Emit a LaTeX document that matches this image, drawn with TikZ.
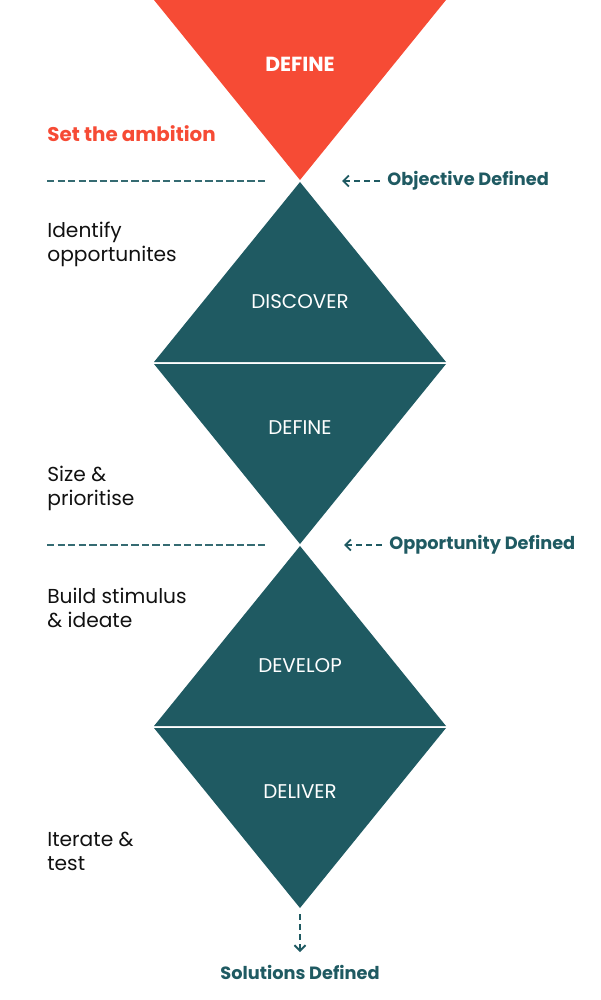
\documentclass[tikz,border=0pt]{standalone}
\usepackage{fontspec}
\setmainfont{Poppins}
\usetikzlibrary{positioning,arrows.meta}
\definecolor{ambition}{HTML}{F64B35}
\definecolor{phaseteal}{HTML}{1F5A62}
\definecolor{ink}{HTML}{111111}

\begin{document}
\begin{tikzpicture}[
    x=0.02cm, y=-0.02cm,
    phase/.style={fill=phaseteal, draw=none},
    stage/.style={font=\fontsize{11.3}{13}\selectfont, text=white},
    note/.style={anchor=west, align=left, font=\fontsize{11.5}{13.6}\selectfont, text=ink, inner sep=0pt},
    milestone/.style={font=\bfseries\fontsize{10.1}{12}\selectfont, text=phaseteal, inner sep=0pt},
    gate/.style={phaseteal!90!white, line width=1.1pt, dash pattern=on 4.2pt off 1.8pt},
    pointer/.style={-{Straight Barb[length=1.1mm, width=2.2mm]}, phaseteal, line width=1.1pt, dash pattern=on 3.4pt off 2.3pt}
]
\useasboundingbox (0,0) rectangle (600,1000);

% Ambition triangle (top)
\fill[ambition] (154,0) -- (446,0) -- (300,180) -- cycle;
\node[stage, font=\bfseries\fontsize{11.6}{13}\selectfont] (ambdef) at (300,64) {DEFINE};

% Problem diamond
\fill[phase] (300,182) -- (446,362) -- (154,362) -- cycle;
\fill[phase] (154,364) -- (446,364) -- (300,544) -- cycle;
\node[stage] (discover) at (300,302) {DISCOVER};
\node[stage] (define) at (300,428) {DEFINE};

% Solution diamond
\fill[phase] (300,546) -- (446,726) -- (154,726) -- cycle;
\fill[phase] (154,728) -- (446,728) -- (300,908) -- cycle;
\node[stage] (develop) at (300,666) {DEVELOP};
\node[stage] (deliver) at (300,792) {DELIVER};

% Apex points
\coordinate (apex1) at (342,181);
\coordinate (apex2) at (344,545);
\coordinate (apex3) at (300,914);
\coordinate (tip3) at (300,952);

% Left side notes
\node[note, text=ambition, font=\bfseries\fontsize{11.3}{13.6}\selectfont] (ambition) at (47,134) {Set the ambition};
\coordinate (gate1a) at (47,181);
\coordinate (gate1b) at (266,181);
\draw[gate] (gate1a) -- (gate1b);
\node[note] (identify) at (47,244) {Identify\\opportunites};
\node[note] (size) at (47,488) {Size \&\\prioritise};
\coordinate (gate2a) at (47,545);
\coordinate (gate2b) at (266,545);
\draw[gate] (gate2a) -- (gate2b);
\node[note] (build) at (47,608) {Build stimulus\\\& ideate};
\node[note] (iterate) at (47,851) {Iterate \&\\test};

% Milestones
\node[milestone, anchor=west] (objective) at (387,181) {Objective Defined};
\draw[pointer, shorten <=4pt] (objective.west) -- (apex1);
\node[milestone, anchor=west] (opportunity) at (389,545) {Opportunity Defined};
\draw[pointer, shorten <=4pt] (opportunity.west) -- (apex2);
\node[milestone] (solutions) at (300,972) {Solutions Defined};
\draw[pointer] (apex3) -- (tip3);

\end{tikzpicture}
\end{document}
